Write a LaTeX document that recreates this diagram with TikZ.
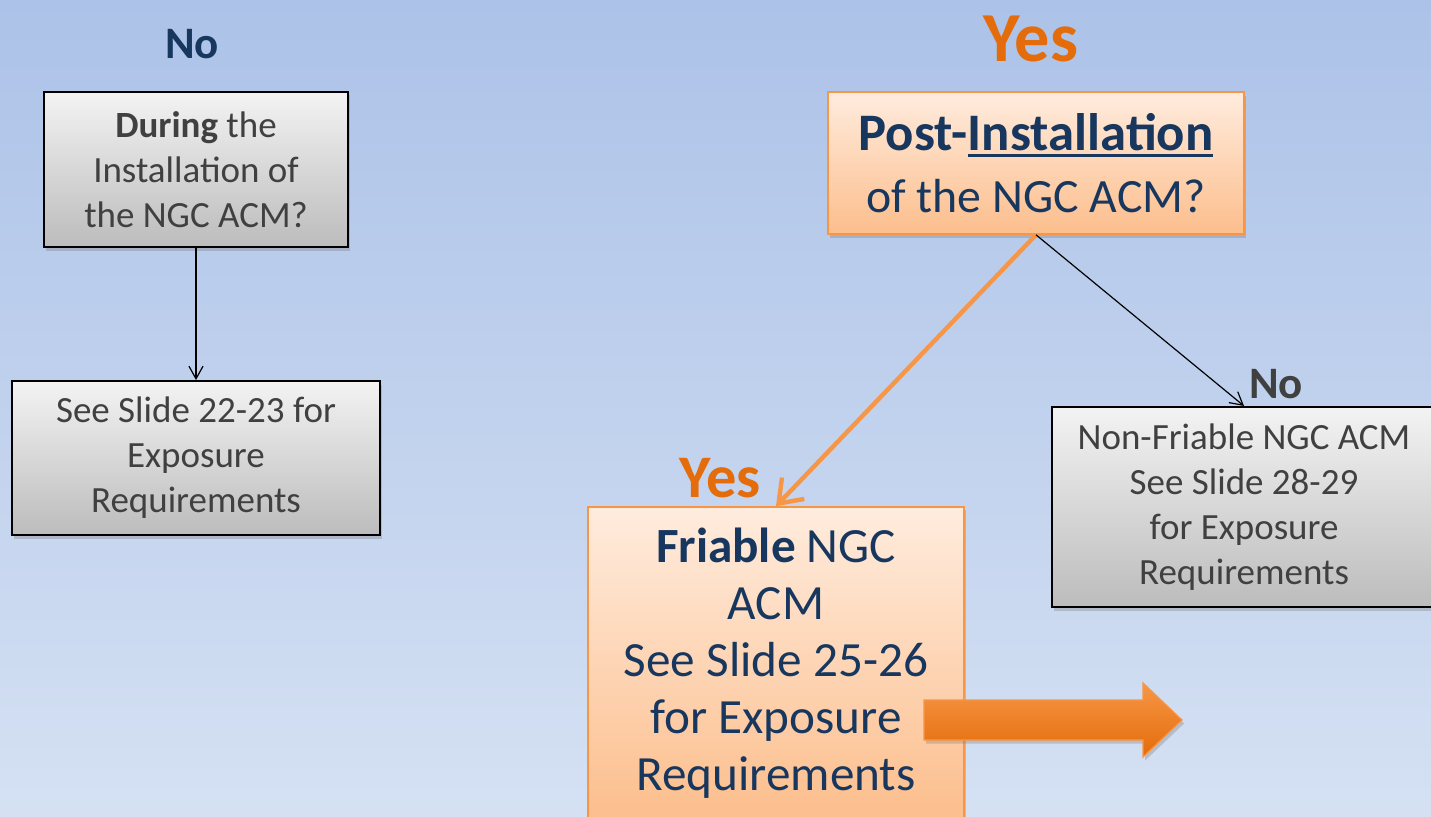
\documentclass[tikz,border=0pt]{standalone}
\usepackage{fontspec}
\setmainfont{Carlito}
\usetikzlibrary{positioning,calc,shadows,arrows.meta}
\definecolor{backtop}{RGB}{172, 194, 232}
\definecolor{backbottom}{RGB}{213, 225, 243}
\definecolor{navytext}{RGB}{23, 55, 94}
\definecolor{graytext}{RGB}{64, 64, 64}
\definecolor{yesorange}{RGB}{228, 108, 10}
\definecolor{lineorange}{RGB}{247, 150, 70}
\definecolor{orangetop}{RGB}{255, 236, 222}
\definecolor{orangebottom}{RGB}{252, 190, 140}
\definecolor{graytop}{RGB}{243, 243, 243}
\definecolor{graybottom}{RGB}{188, 188, 188}
\newcommand{\ulthick}[1]{\vtop{\hbox{#1}\kern2.5pt\hrule height 2pt}}

\begin{document}
\begin{tikzpicture}[x=0.025cm, y=-0.025cm,
graynode/.style={rectangle, draw=black, line width=0.5mm, top color=graytop, bottom color=graybottom, text=graytext, align=center, inner sep=0pt, font=\fontsize{26.3}{32}\selectfont, drop shadow={shadow xshift=1.5pt, shadow yshift=-2.5pt, opacity=0.35}},
orangenode/.style={rectangle, draw=lineorange, line width=0.4mm, top color=orangetop, bottom color=orangebottom, text=navytext, align=center, inner sep=0pt, drop shadow={shadow xshift=1.5pt, shadow yshift=-2.5pt, opacity=0.35}},
nolabel/.style={font=\fontsize{32}{36}\selectfont\bfseries, inner sep=0pt},
yeslabel/.style={text=yesorange, font=\bfseries, inner sep=0pt},
arrow/.style={-{Straight Barb[length=9pt, width=10pt]}, line width=0.3mm, black},
orangearrow/.style={-{Straight Barb[length=15pt, width=22pt]}, line width=1.1mm, lineorange}
]
\clip (0,0) rectangle (1431,816);
\shade[top color=backtop, bottom color=backbottom] (0,0) rectangle (1431,816);

%Nodes
%Nodes left side
\node[nolabel, text=navytext] 							(no_left) at (192,44) {No};
\node[graynode, minimum width=7.6cm, minimum height=3.875cm] 	(during_node) at (196,169.5) {\textbf{During} the\\ Installation of\\ the NGC ACM?};
\node[graynode, minimum width=9.2cm, minimum height=3.85cm] 	(slide_left_node) [below=3.3cm of during_node] {See Slide 22-23 for\\ Exposure\\ Requirements};

%Nodes right side
\node[yeslabel, font=\fontsize{50}{54}\selectfont\bfseries] 	(yes_top) at (1031,39) {Yes};
\node[orangenode, minimum width=10.4cm, minimum height=3.55cm, font=\fontsize{34}{44}\selectfont] 	(post_node) at (1036,163) {{\fontsize{37.5}{44}\selectfont\bfseries Post-\ulthick{Installation}}\\ of the NGC ACM?};
\node[yeslabel, font=\fontsize{43}{46}\selectfont\bfseries] 	(yes_friable) at (720,478) {Yes};
\node[orangenode, minimum width=9.4cm, minimum height=7.825cm, font=\fontsize{35}{40.5}\selectfont] 	(friable_node) at (776,663.5) {\textbf{Friable} NGC\\ ACM\\ See Slide 25-26\\ for Exposure\\ Requirements};
\node[nolabel, text=graytext] 							(no_right) at (1276,384) {No};
\node[graynode, minimum width=9.6cm, minimum height=5cm] 	(nonfriable_node) at (1244,507) {Non-Friable NGC ACM\\ See Slide 28-29\\ for Exposure\\ Requirements};

%Arrow
\draw [arrow] (during_node.south) -- (slide_left_node.north);
\draw [orangearrow] (post_node.south) -- (friable_node.north);
\draw [arrow] (post_node.south) -- (nonfriable_node.north);

%Block arrow
\shade[top color=lineorange, bottom color=yesorange, draw=lineorange, line width=0.3mm, drop shadow={shadow xshift=1.5pt, shadow yshift=-2.5pt, opacity=0.35}]
	(924,700) -- (1143,700) -- (1143,683) -- (1182,720) -- (1143,757) -- (1143,740) -- (924,740) -- cycle;

\end{tikzpicture}
\end{document}
